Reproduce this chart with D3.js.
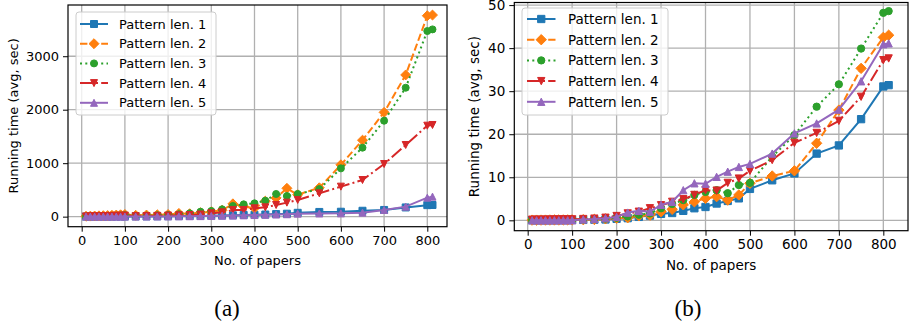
<!DOCTYPE html>
<html>
<head>
<meta charset="utf-8">
<script src="https://cdn.jsdelivr.net/npm/d3@7"></script>
<style>
body { margin: 0; background: #fff; }
svg { display: block; font-family: "DejaVu Sans", sans-serif; }
</style>
</head>
<body>
<svg id="chart" width="912" height="333"></svg>
<script>
// x values (number of papers)
const papers = [10, 20, 30, 40, 50, 60, 70, 80, 90, 100, 125, 150, 175, 200, 225, 250, 275, 300,
    325, 350, 375, 400, 425, 450, 475, 500, 550, 600, 650, 700, 750, 800, 812];

const seriesNames = ["Pattern len. 1", "Pattern len. 2", "Pattern len. 3", "Pattern len. 4", "Pattern len. 5"];

// panel (a)
const timeA1 = [1, 1, 1, 2, 2, 2, 2, 3, 3, 3, 4, 5, 6, 8, 10, 12, 14, 18, 22, 25, 30, 35, 40, 48, 55, 72, 88, 92, 110, 125, 172, 215, 218];
const timeA2 = [8, 10, 12, 15, 18, 20, 25, 30, 35, 40, 25, 30, 35, 40, 60, 55, 75, 90, 120, 240, 190, 160, 290, 350, 530, 410, 540, 970, 1430, 1950, 2650, 3757, 3770];
const timeA3 = [5, 6, 8, 10, 12, 14, 16, 18, 22, 28, 15, 20, 25, 30, 45, 62, 93, 106, 137, 199, 230, 249, 299, 424, 386, 424, 515, 903, 1290, 1794, 2411, 3471, 3502];
const timeA4 = [5, 6, 7, 8, 10, 12, 14, 16, 18, 20, 10, 12, 15, 20, 25, 31, 40, 62, 80, 125, 125, 156, 174, 218, 262, 312, 436, 561, 685, 984, 1340, 1701, 1714];
const timeA5 = [1, 1, 1, 1, 1, 1, 1, 1, 1, 1, 2, 3, 4, 5, 6, 8, 10, 14, 18, 20, 25, 30, 35, 40, 45, 56, 60, 62, 75, 125, 187, 355, 374];

// panel (b)
const timeB1 = [0.03, 0.03, 0.04, 0.04, 0.05, 0.05, 0.06, 0.06, 0.07, 0.08, 0.1, 0.15, 0.2, 0.35, 0.5, 0.8, 1.1, 1.5, 1.7, 2.2, 2.8, 3.1, 3.9, 4.5, 5.1, 7.3, 9.3, 10.9, 15.5, 17.4, 23.5, 31.1, 31.4];
const timeB2 = [0.05, 0.05, 0.06, 0.06, 0.07, 0.08, 0.08, 0.09, 0.1, 0.1, 0.15, 0.2, 0.35, 0.5, 0.6, 1.05, 1.2, 2.0, 2.55, 3.6, 4.3, 5.1, 5.5, 4.7, 5.9, 8.6, 10.3, 11.5, 17.9, 25.6, 35.3, 42.5, 43.0];
const timeB3 = [0.08, 0.08, 0.09, 0.09, 0.1, 0.1, 0.11, 0.12, 0.12, 0.13, 0.2, 0.3, 0.4, 0.6, 0.9, 1.3, 1.6, 2.8, 3.8, 4.7, 5.9, 6.6, 7.0, 6.3, 8.2, 8.7, 14.8, 19.8, 26.4, 31.6, 39.9, 48.2, 48.6];
const timeB4 = [0.15, 0.15, 0.16, 0.17, 0.18, 0.19, 0.2, 0.21, 0.22, 0.23, 0.3, 0.4, 0.6, 1.0, 1.6, 2.0, 2.8, 3.5, 4.3, 4.9, 5.9, 7.0, 6.9, 8.7, 9.7, 11.5, 14.0, 18.0, 20.3, 23.1, 28.7, 37.2, 37.6];
const timeB5 = [0.0, 0.0, 0.0, 0.0, 0.0, 0.01, 0.01, 0.01, 0.01, 0.02, 0.2, 0.3, 0.5, 0.8, 1.8, 2.2, 2.0, 3.6, 4.3, 7.0, 8.6, 8.5, 10.1, 11.3, 12.4, 13.1, 15.5, 20.2, 22.5, 25.7, 32.3, 40.9, 41.1];

const xTicks = [0, 100, 200, 300, 400, 500, 600, 700, 800];
const yTicksA = [0, 1000, 2000, 3000];
const yTicksB = [0, 10, 20, 30, 40, 50];

const colors = ["#1f77b4", "#ff7f0e", "#2ca02c", "#d62728", "#9467bd"];
const dashes = [null, "7.4,3.2", "2,3.3", "12.8,3.2,2,3.2", null];
const markers = ["square", "diamond", "circle", "tridown", "triup"];

const svg = d3.select("#chart");

// marker outline, centred on 0,0
function markerPath(type, m) {
    const h = m / 2;
    if (type === "square") return `M${-h},${-h}H${h}V${h}H${-h}Z`;
    if (type === "diamond") { const d = h * 1.42; return `M0,${-d}L${d},0L0,${d}L${-d},0Z`; }
    if (type === "circle") return `M${h},0A${h},${h} 0 1,1 ${-h},0A${h},${h} 0 1,1 ${h},0Z`;
    if (type === "triup") return `M0,${-h}L${h},${h}L${-h},${h}Z`;
    return `M0,${h}L${h},${-h}L${-h},${-h}Z`;
}

function drawPanel(p) {
    const x = d3.scaleLinear().domain(p.xDomain).range([p.left, p.right]);
    const y = d3.scaleLinear().domain(p.yDomain).range([p.bottom, p.top]);
    const g = svg.append("g");
    const fs = p.fontSize;

    // grid
    g.selectAll(".gx").data(xTicks).enter().append("line")
        .attr("x1", d => x(d)).attr("x2", d => x(d))
        .attr("y1", p.top).attr("y2", p.bottom)
        .style("stroke", "#b0b0b0").style("stroke-width", 1.3);
    g.selectAll(".gy").data(p.yTicks).enter().append("line")
        .attr("x1", p.left).attr("x2", p.right)
        .attr("y1", d => y(d)).attr("y2", d => y(d))
        .style("stroke", "#b0b0b0").style("stroke-width", 1.3);

    // axes
    const xAxis = g.append("g").attr("transform", `translate(0,${p.bottom})`)
        .call(d3.axisBottom(x).tickValues(xTicks).tickFormat(d3.format("d")).tickSize(5).tickPadding(4));
    const yAxis = g.append("g").attr("transform", `translate(${p.left},0)`)
        .call(d3.axisLeft(y).tickValues(p.yTicks).tickFormat(d3.format("d")).tickSize(5).tickPadding(4));
    [xAxis, yAxis].forEach(a => {
        a.select(".domain").remove();
        a.selectAll("line").style("stroke", "#000").style("stroke-width", 1);
        a.selectAll("text").style("font-size", fs + "px").style("fill", "#000")
            .style("font-family", "DejaVu Sans");
    });

    const line = d3.line().x(d => x(d[0])).y(d => y(d[1]));

    // series
    p.series.forEach((vals, i) => {
        const pts = papers.map((xv, k) => [xv, vals[k]]);
        g.append("path").datum(pts)
            .attr("d", line)
            .attr("fill", "none")
            .style("stroke", colors[i])
            .style("stroke-width", 2)
            .style("stroke-dasharray", dashes[i]);
        g.selectAll(".m" + i).data(pts).enter().append("path")
            .attr("d", markerPath(markers[i], p.markerSize))
            .attr("transform", d => `translate(${x(d[0])},${y(d[1])})`)
            .style("fill", colors[i])
            .style("stroke", colors[i])
            .style("stroke-width", 1);
    });

    // frame
    g.append("rect")
        .attr("x", p.left).attr("y", p.top)
        .attr("width", p.right - p.left).attr("height", p.bottom - p.top)
        .attr("fill", "none").style("stroke", "#000").style("stroke-width", 1.2);

    // legend
    const lg = p.legend;
    g.append("rect")
        .attr("x", lg.x).attr("y", lg.y).attr("width", lg.w).attr("height", lg.h)
        .attr("rx", 3)
        .attr("fill", "#fff").attr("fill-opacity", 0.8)
        .style("stroke", "#cccccc").style("stroke-width", 1);
    seriesNames.forEach((name, i) => {
        const ry = lg.row0 + i * lg.step;
        g.append("line")
            .attr("x1", lg.hx).attr("x2", lg.hx + lg.hw)
            .attr("y1", ry).attr("y2", ry)
            .style("stroke", colors[i]).style("stroke-width", 2)
            .style("stroke-dasharray", dashes[i]);
        g.append("path")
            .attr("d", markerPath(markers[i], p.markerSize))
            .attr("transform", `translate(${lg.hx + lg.hw / 2},${ry})`)
            .style("fill", colors[i]).style("stroke", colors[i]).style("stroke-width", 1);
        g.append("text")
            .attr("x", lg.tx).attr("y", ry)
            .attr("dy", "0.36em")
            .style("font-size", fs + "px")
            .text(name);
    });

    // labels
    g.append("text")
        .attr("x", (p.left + p.right) / 2).attr("y", p.xLabelY)
        .attr("text-anchor", "middle").attr("dy", "0.36em")
        .style("font-size", fs + "px")
        .text("No. of papers");
    g.append("text")
        .attr("transform", `translate(${p.yLabelX},${(p.top + p.bottom) / 2}) rotate(-90)`)
        .attr("text-anchor", "middle").attr("dy", "0.36em")
        .style("font-size", fs + "px")
        .text("Running time (avg, sec)");
    g.append("text")
        .attr("x", p.capX).attr("y", 308)
        .attr("text-anchor", "middle").attr("dy", "0.33em")
        .style("font-family", "Liberation Serif, serif")
        .style("font-size", "23px")
        .text(p.caption);
}

drawPanel({
    left: 68, right: 447, top: 5, bottom: 226.7,
    xDomain: [-31.7, 845.6], yDomain: [-188, 3958],
    yTicks: yTicksA,
    series: [timeA1, timeA2, timeA3, timeA4, timeA5],
    fontSize: 13, markerSize: 7,
    legend: { x: 76, y: 12, w: 140, h: 103, row0: 24, step: 19.7, hx: 80, hw: 28, tx: 119 },
    xLabelY: 260, yLabelX: 13, capX: 227, caption: "(a)"
});

drawPanel({
    left: 514.3, right: 908, top: 2.5, bottom: 230.7,
    xDomain: [-30.1, 855.5], yDomain: [-2.41, 50.6],
    yTicks: yTicksB,
    series: [timeB1, timeB2, timeB3, timeB4, timeB5],
    fontSize: 13.5, markerSize: 7.3,
    legend: { x: 522, y: 8, w: 146, h: 107, row0: 19, step: 20.7, hx: 527, hw: 28.5, tx: 568 },
    xLabelY: 265, yLabelX: 474, capX: 688, caption: "(b)"
});
</script>
</body>
</html>
